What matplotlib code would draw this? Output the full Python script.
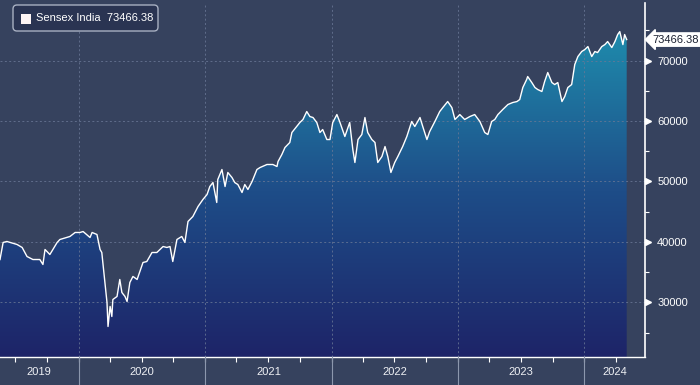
import matplotlib
matplotlib.use("Agg")
import matplotlib.pyplot as plt
import matplotlib.dates as mdates
import numpy as np
import pandas as pd
from matplotlib.colors import LinearSegmentedColormap
from matplotlib.patches import FancyBboxPatch, Rectangle
import matplotlib.transforms as mtrans

plt.rcParams['font.family'] = ['Liberation Sans', 'DejaVu Sans']

series_name = "Sensex India"
last_value = 73466.38

dates = [
    "2019-05-19", "2019-05-28", "2019-06-08", "2019-07-07", "2019-07-22", "2019-08-05", "2019-08-22",
    "2019-09-11", "2019-09-20", "2019-09-26", "2019-10-10", "2019-10-31", "2019-11-08", "2019-12-07",
    "2019-12-22", "2020-01-05", "2020-01-14", "2020-02-03", "2020-02-09", "2020-02-23", "2020-03-03",
    "2020-03-08", "2020-03-17", "2020-03-23", "2020-03-26", "2020-04-01", "2020-04-06", "2020-04-09",
    "2020-04-21", "2020-04-29", "2020-05-05", "2020-05-14", "2020-05-20", "2020-05-28", "2020-06-06",
    "2020-06-18", "2020-06-26", "2020-07-05", "2020-07-16", "2020-07-31", "2020-08-14", "2020-08-23",
    "2020-09-01", "2020-09-12", "2020-09-21", "2020-09-29", "2020-10-11", "2020-10-25", "2020-11-03",
    "2020-11-12", "2020-11-26", "2020-12-11", "2020-12-25", "2021-01-06", "2021-01-14", "2021-01-23",
    "2021-02-03", "2021-02-06", "2021-02-18", "2021-02-27", "2021-03-07", "2021-03-19", "2021-03-27",
    "2021-04-05", "2021-04-17", "2021-04-25", "2021-05-04", "2021-05-16", "2021-05-30", "2021-06-08",
    "2021-06-28", "2021-07-15", "2021-07-27", "2021-07-30", "2021-08-10", "2021-08-19", "2021-09-02",
    "2021-09-08", "2021-09-22", "2021-10-01", "2021-10-10", "2021-10-21", "2021-10-30", "2021-11-08",
    "2021-11-19", "2021-11-28", "2021-12-06", "2021-12-18", "2021-12-27", "2022-01-04", "2022-01-16",
    "2022-01-25", "2022-02-08", "2022-02-22", "2022-03-03", "2022-03-09", "2022-03-18", "2022-03-29",
    "2022-04-07", "2022-04-15", "2022-04-27", "2022-05-06", "2022-05-14", "2022-05-26", "2022-06-04",
    "2022-06-12", "2022-06-21", "2022-07-02", "2022-07-11", "2022-07-25", "2022-08-06", "2022-08-20",
    "2022-08-29", "2022-09-13", "2022-09-21", "2022-10-03", "2022-10-11", "2022-10-26", "2022-11-09",
    "2022-11-18", "2022-12-02", "2022-12-14", "2022-12-23", "2023-01-06", "2023-01-20", "2023-02-04",
    "2023-02-18", "2023-03-05", "2023-03-19", "2023-03-28", "2023-04-08", "2023-04-17", "2023-04-26",
    "2023-05-10", "2023-05-25", "2023-06-08", "2023-06-20", "2023-06-28", "2023-07-07", "2023-07-18",
    "2023-07-21", "2023-08-02", "2023-08-11", "2023-08-19", "2023-08-31", "2023-09-08", "2023-09-17",
    "2023-09-29", "2023-10-07", "2023-10-16", "2023-10-28", "2023-11-05", "2023-11-14", "2023-11-25",
    "2023-12-04", "2023-12-13", "2023-12-24", "2024-01-02", "2024-01-11", "2024-01-22", "2024-01-31",
    "2024-02-08", "2024-02-20", "2024-02-29", "2024-03-08", "2024-03-20", "2024-03-29", "2024-04-06",
    "2024-04-12", "2024-04-21", "2024-04-26", "2024-05-02",
]

values = [
    37100, 39920, 40080, 39590, 39090, 37600, 37100,
    37100, 36280, 38760, 37930, 39920, 40410, 40910,
    41570, 41570, 41730, 40740, 41570, 41240, 38760,
    38260, 33300, 30000, 26030, 29340, 27680, 30490,
    30990, 33800, 31650, 30990, 30160, 33300, 34300,
    33800, 35120, 36610, 36770, 38260, 38260, 38760,
    39250, 39090, 39250, 36770, 40410, 40910, 39920,
    43390, 44210, 45870, 47020, 47850, 49170, 49830,
    46530, 50330, 51980, 49170, 51490, 50660, 49830,
    49500, 48180, 49500, 48680, 50000, 51980, 52310,
    52810, 52810, 52480, 53300, 54460, 55620, 56450,
    58100, 59090, 59750, 60250, 61570, 60740, 60580,
    59750, 58100, 58590, 56940, 56940, 59750, 61070,
    59750, 57440, 59750, 55290, 53140, 56940, 57770,
    60580, 58100, 56940, 56450, 53140, 54130, 55780,
    54130, 51490, 53140, 54130, 55780, 57440, 59920,
    59090, 60580, 59090, 56940, 58260, 59920, 61570,
    62230, 63220, 62230, 60250, 61070, 60250, 60740,
    61070, 59920, 58100, 57770, 59920, 60250, 61070,
    61900, 62730, 63060, 63220, 63550, 65540, 66860,
    67360, 66360, 65540, 65210, 64880, 66530, 68020,
    66360, 66030, 66360, 63220, 64050, 65540, 66030,
    69340, 70660, 71490, 71820, 72310, 70660, 71490,
    71320, 72310, 72640, 73140, 72150, 73140, 74300,
    74790, 72640, 74300, 73470,
]

y_ticks = [30000, 40000, 50000, 60000, 70000]
y_minor = [25000, 35000, 45000, 55000, 65000, 75000]
year_labels = ["2019", "2020", "2021", "2022", "2023", "2024"]

BG = "#36425e"
x = pd.to_datetime(dates)
xn = mdates.date2num(x)
xmin = mdates.date2num(pd.Timestamp("2019-05-19"))
xmax = mdates.date2num(pd.Timestamp("2024-06-23"))
ymin, ymax = 21000, 79500

fig = plt.figure(figsize=(7, 3.85), dpi=100, facecolor=BG)
ax = fig.add_axes([0.0, 0.073, 0.921, 0.919])
ax.set_facecolor(BG)
ax.set_xlim(xmin, xmax)
ax.set_ylim(ymin, ymax)

# gradient fill
cmap = LinearSegmentedColormap.from_list("g", ["#1d2468", "#1e4d88", "#1f8eae"])
grad = np.linspace(0, 1, 256).reshape(-1, 1)
im = ax.imshow(grad, aspect="auto", cmap=cmap, origin="lower",
               extent=[xmin, xmax, ymin, 76000], zorder=1)
poly_x = np.concatenate([[xn[0]], xn, [xn[-1]]])
poly_y = np.concatenate([[ymin], values, [ymin]])
fill = ax.fill(poly_x, poly_y, facecolor="none", edgecolor="none")[0]
im.set_clip_path(fill)

ax.plot(xn, values, color="white", lw=1.0, zorder=4)

# grid
for yt in y_ticks + [80000]:
    ax.axhline(yt, color="#6a7896", lw=0.7, ls=(0, (2, 2.5)), zorder=2, alpha=0.8)
years_bounds = [mdates.date2num(pd.Timestamp(f"{y}-01-01")) for y in range(2020, 2025)]
for xb in years_bounds:
    ax.axvline(xb, color="#6a7896", lw=0.7, ls=(0, (2, 2.5)), zorder=2, alpha=0.8)

# spines
for s in ["top", "left"]:
    ax.spines[s].set_visible(False)
ax.spines["bottom"].set_color("white")
ax.spines["right"].set_color("white")
ax.spines["bottom"].set_linewidth(1.0)
ax.spines["right"].set_linewidth(1.2)

# x ticks: quarterly minor
ax.set_xticks([])
qticks = []
for y in range(2019, 2025):
    for m in (1, 4, 7, 10):
        d = mdates.date2num(pd.Timestamp(f"{y}-{m:02d}-01"))
        if xmin < d < xmax:
            qticks.append(d)
ax.set_xticks(qticks, minor=True)
ax.tick_params(axis="x", which="minor", length=3.5, color="white", width=0.8)
ax.tick_params(axis="x", which="major", length=0)

trans_x = mtrans.blended_transform_factory(ax.transData, ax.transAxes)
for xb in years_bounds:
    ax.plot([xb, xb], [0, -0.09], transform=trans_x, color="#8c97ad", lw=0.8, clip_on=False, zorder=5)
edges = [xmin] + years_bounds + [xmax]
for i, lab in enumerate(year_labels):
    c = (edges[i] + edges[i + 1]) / 2
    ax.text(c, -0.042, lab, transform=trans_x, ha="center", va="center", color="#eef0f4", fontsize=8)

# y ticks on right
ax.yaxis.tick_right()
ax.set_yticks(y_ticks)
ax.set_yticklabels([f"{v}" for v in y_ticks])
ax.tick_params(axis="y", which="major", length=0, pad=9, labelsize=8, labelcolor="white")
ax.set_yticks(y_minor, minor=True)
ax.tick_params(axis="y", which="minor", length=3, color="white", width=0.8, direction="out")
trans_y = mtrans.blended_transform_factory(ax.transAxes, ax.transData)
for yt in y_ticks:
    ax.plot([1.0045], [yt], transform=trans_y, marker=">", ms=5, color="white",
            mec="white", clip_on=False, zorder=6)

# last value box
ax.text(1.012, values[-1], f"{last_value:.2f}", transform=trans_y, ha="left", va="center",
        fontsize=8, color="#1a2030",
        bbox=dict(boxstyle="larrow,pad=0.15", fc="white", ec="white"), zorder=7, clip_on=False)

# legend box
lg = FancyBboxPatch((13, 385 - 31), 145, 26, boxstyle="round,pad=0,rounding_size=4",
                    transform=None, fc="#2a3452", ec="#a8b0c2", lw=1.0, zorder=8)
fig.patches.append(lg)
sq = Rectangle((21, 385 - 24), 10, 10, transform=None, fc="#fdf5f5", ec="none", zorder=9)
fig.patches.append(sq)
fig.text(36 / 700, (385 - 18) / 385, f"{series_name}  {last_value:.2f}", color="white",
         fontsize=8, va="center", ha="left", zorder=10)

fig.savefig("out.png", dpi=100, facecolor=BG)
